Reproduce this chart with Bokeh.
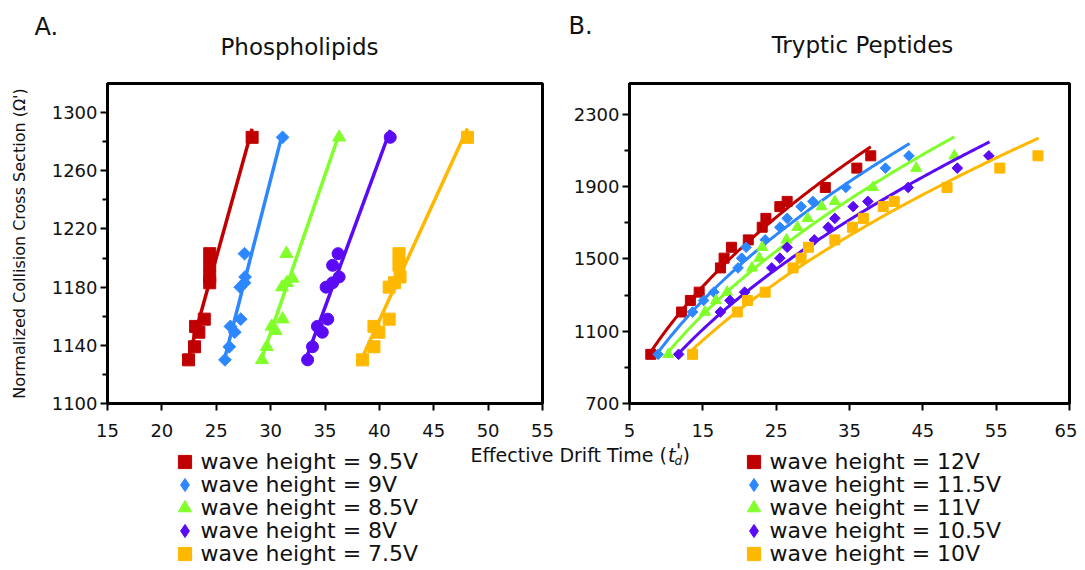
import numpy as np
from bokeh.plotting import figure
from bokeh.layouts import row, column
from bokeh.models import Range1d, FixedTicker, Label, Legend, LegendItem
from bokeh.embed import file_html
from bokeh.resources import INLINE

FONT = "DejaVu Sans"
TXT = "#111111"
H = 568

colors = ["#C00000", "#2D88FF", "#80FF2A", "#5A0AF5", "#FFB800"]

# ---------------- Panel A: Phospholipids ----------------
a_labels = ["wave height = 9.5V", "wave height = 9V", "wave height = 8.5V",
            "wave height = 8V", "wave height = 7.5V"]
a_ccs_95 = [1130, 1139, 1149, 1153, 1158, 1183, 1187, 1195, 1203, 1283]
a_td_95 = [22.45, 23.0, 23.4, 23.1, 23.9, 24.4, 24.4, 24.4, 24.4, 28.3]
a_ccs_90 = [1130, 1139, 1149, 1153, 1158, 1180, 1183, 1187, 1203, 1283]
a_td_90 = [25.8, 26.2, 26.7, 26.3, 27.25, 27.2, 27.6, 27.65, 27.6, 31.1]
a_ccs_85 = [1130, 1139, 1150, 1153, 1158, 1180, 1183, 1186, 1203, 1283]
a_td_85 = [29.2, 29.65, 30.45, 30.1, 31.1, 31.05, 31.5, 32.0, 31.45, 36.3]
a_ccs_80 = [1130, 1139, 1149, 1153, 1158, 1180, 1183, 1187, 1195, 1203, 1283]
a_td_80 = [33.4, 33.85, 34.75, 34.3, 35.25, 35.1, 35.7, 36.3, 35.7, 36.2, 41.0]
a_ccs_75 = [1130, 1139, 1149, 1153, 1158, 1180, 1183, 1187, 1195, 1203, 1283]
a_td_75 = [38.45, 39.5, 39.95, 39.5, 40.9, 40.9, 41.4, 41.9, 41.8, 41.8, 48.1]
a_xticks = [15, 20, 25, 30, 35, 40, 45, 50, 55]
a_yticks = [1100, 1140, 1180, 1220, 1260, 1300]

# ---------------- Panel B: Tryptic Peptides ----------------
b_labels = ["wave height = 12V", "wave height = 11.5V", "wave height = 11V",
            "wave height = 10.5V", "wave height = 10V"]
b_ccs = [972, 1206, 1270, 1316, 1450, 1504, 1564, 1605, 1675, 1724, 1789, 1818, 1895, 2002, 2070]
b_td_120 = [7.9, 12.1, 13.3, 14.5, 17.4, 17.9, 18.9, 21.2, 23.1, 23.6, 25.5, 26.5, 31.7, 36.0, 37.9]
b_td_115 = [8.9, 13.6, 15.1, 16.5, 19.8, 20.3, 20.9, 23.5, 25.5, 26.5, 28.4, 30.0, 34.5, 39.9, 43.1]
b_td_110 = [10.3, 15.3, 16.8, 18.3, 21.7, 22.7, 23.1, 26.4, 27.9, 29.3, 31.2, 33.0, 38.2, 44.1, 49.3]
b_td_105 = [11.7, 17.4, 18.7, 20.7, 24.4, 25.5, 26.5, 30.2, 32.1, 33.0, 35.5, 37.5, 43.0, 49.7, 54.0]
b_td_100 = [13.6, 19.7, 21.1, 23.5, 27.3, 28.4, 29.4, 33.0, 35.4, 36.9, 39.6, 41.1, 48.3, 55.5, 60.7]
# power-law calibration curves (start / end)
b_fit_x0 = [8.05, 8.95, 10.3, 11.9, 13.5]
b_fit_y0 = [994, 985, 985, 985, 994]
b_fit_x1 = [37.9, 43.2, 49.3, 54.1, 60.8]
b_fit_y1 = [2120, 2138, 2175, 2147, 2168]
b_xticks = [5, 15, 25, 35, 45, 55, 65]
b_yticks = [700, 1100, 1500, 1900, 2300]


def style_axes(p, xticks, yticks, ylabel=None):
    p.grid.visible = False
    p.outline_line_color = "black"
    p.outline_line_width = 3
    p.outline_line_alpha = 1.0
    yminor = [(a + b) / 2 for a, b in zip(yticks[:-1], yticks[1:])]
    p.xaxis.ticker = FixedTicker(ticks=xticks)
    p.yaxis.ticker = FixedTicker(ticks=yticks, minor_ticks=yminor)
    for ax in (p.xaxis[0], p.yaxis[0]):
        ax.axis_line_color = "black"
        ax.axis_line_width = 3
        ax.major_tick_in = 0
        ax.major_tick_out = 7
        ax.major_tick_line_width = 2
        ax.major_tick_line_color = "black"
        ax.minor_tick_in = 0
        ax.minor_tick_out = 5
        ax.minor_tick_line_width = 2
        ax.minor_tick_line_color = "black"
        ax.major_label_text_font = FONT
        ax.major_label_text_font_size = "18px"
        ax.major_label_text_color = TXT
    p.xaxis[0].minor_tick_out = 0
    p.xaxis[0].major_label_standoff = 13
    p.yaxis[0].major_label_standoff = 3
    if ylabel:
        p.yaxis[0].axis_label = ylabel
        p.yaxis[0].axis_label_text_font = FONT
        p.yaxis[0].axis_label_text_font_size = "16px"
        p.yaxis[0].axis_label_text_font_style = "normal"
        p.yaxis[0].axis_label_text_color = TXT
        p.yaxis[0].axis_label_standoff = 20


# ---------------- Figure A ----------------
pa = figure(frame_width=435, frame_height=320, output_backend="svg", toolbar_location=None,
            x_range=Range1d(15, 55), y_range=Range1d(1100, 1320),
            min_border_left=107, min_border_right=158, min_border_top=83,
            min_border_bottom=H - 403)
pa.border_fill_color = None
style_axes(pa, a_xticks, a_yticks, "Normalized Collision Cross Section (\u03a9')")

a_td = [a_td_95, a_td_90, a_td_85, a_td_80, a_td_75]
a_ccs = [a_ccs_95, a_ccs_90, a_ccs_85, a_ccs_80, a_ccs_75]
a_markers = ["square", "square", "triangle", "circle", "square"]
a_angles = [0, np.pi / 4, 0, 0, 0]
a_sizes = [12, 9, 13, 12, 12]
for i in range(5):
    x = np.array(a_td[i])
    y = np.array(a_ccs[i])
    k, b = np.polyfit(x, y, 1)
    xs = np.array([x.min(), x.max()])
    pa.line(xs, k * xs + b, line_color=colors[i], line_width=3.5)
    pa.scatter(x, y, marker=a_markers[i], angle=a_angles[i], size=a_sizes[i],
               fill_color=colors[i], line_color=colors[i])

# ---------------- Figure B ----------------
pb = figure(frame_width=440, frame_height=320, output_backend="svg", toolbar_location=None,
            x_range=Range1d(5, 65), y_range=Range1d(700, 2470),
            min_border_left=64, min_border_right=8, min_border_top=83,
            min_border_bottom=H - 403)
pb.border_fill_color = None
pb.margin = (0, 0, 0, -135)
style_axes(pb, b_xticks, b_yticks)

b_td = [b_td_120, b_td_115, b_td_110, b_td_105, b_td_100]
b_markers = ["square", "square", "triangle", "square", "square"]
b_angles = [0, np.pi / 4, 0, np.pi / 4, 0]
b_sizes = [10, 7.5, 11, 7.5, 10]
for i in range(5):
    x0, y0, x1, y1 = b_fit_x0[i], b_fit_y0[i], b_fit_x1[i], b_fit_y1[i]
    n = np.log(y1 / y0) / np.log(x1 / x0)
    xs = np.linspace(x0, x1, 120)
    pb.line(xs, y0 * (xs / x0) ** n, line_color=colors[i], line_width=3)
    pb.scatter(b_td[i], b_ccs, marker=b_markers[i], angle=b_angles[i], size=b_sizes[i],
               fill_color=colors[i], line_color=colors[i])

# ---------------- transparent overlay for titles, shared x title and legends ----------------
W = 1077
ov = figure(frame_width=W, frame_height=H, output_backend="svg", toolbar_location=None,
            x_range=Range1d(0, W), y_range=Range1d(H, 0),
            x_axis_location=None, y_axis_location=None,
            min_border_left=0, min_border_right=0, min_border_top=0, min_border_bottom=0)
ov.grid.visible = False
ov.outline_line_color = None
ov.background_fill_color = None
ov.border_fill_color = None


def add_label(x, y, text, size, align="left", style="normal"):
    ov.add_layout(Label(x=x, y=y, text=text, text_font=FONT, text_font_size=size,
                        text_font_style=style, text_align=align, text_baseline="middle",
                        text_color=TXT))


add_label(34, 26, "A.", "24px")
add_label(568, 25, "B.", "24px")
add_label(299, 46, "Phospholipids", "23px", align="center")
add_label(862, 44, "Tryptic Peptides", "23px", align="center")
add_label(470, 454, "Effective Drift Time (", "19px")
add_label(667.5, 454, "t", "19px", style="italic")
add_label(674, 460, "d", "12px", style="italic")
add_label(675.5, 449, "'", "19px")
add_label(682, 454, ")", "19px")

G = 33
row_centers = [461, 484, 507, 530, 553]
leg_markers = ["square", "diamond", "triangle", "diamond", "square"]
NO_POS = [float("nan")]  # legend-only glyph: never placed in the plot


def add_legend_rows(labels, marker_cx, standoff):
    for i in range(5):
        r = ov.scatter(NO_POS, NO_POS, marker=leg_markers[i], size=10,
                       fill_color=colors[i], line_color=colors[i])
        vy = H - (row_centers[i] + G / 2)
        ov.add_layout(Legend(items=[LegendItem(label=labels[i], renderers=[r], index=0)],
                             location=(marker_cx - G / 2, vy), glyph_width=G, glyph_height=G,
                             spacing=0, label_standoff=standoff, padding=0, margin=0,
                             border_line_color=None, background_fill_alpha=0,
                             label_text_font=FONT, label_text_font_size="22px",
                             label_text_color=TXT))


add_legend_rows(a_labels, 184, 0)
add_legend_rows(b_labels, 753, -2)

ov_box = column(ov)
ov_box.margin = (0, 0, 0, -W)
layout = row(pa, pb, ov_box)
open("out.html", "w").write(file_html(layout, INLINE))
